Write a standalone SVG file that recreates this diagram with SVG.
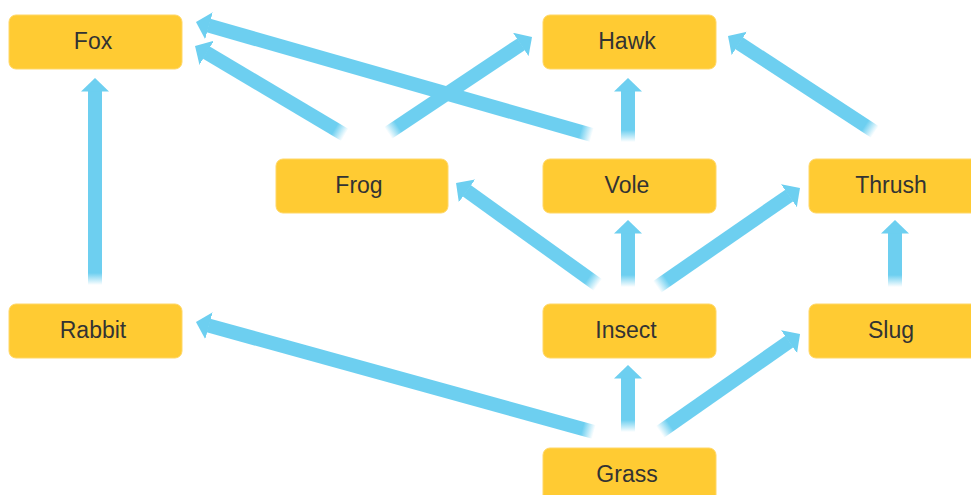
<svg xmlns="http://www.w3.org/2000/svg" width="971" height="495" viewBox="0 0 971 495">
<style>
.node rect{fill:#FFCB33;stroke:#FFD766;stroke-width:1}
.node text{font-family:"Liberation Sans",Arial,sans-serif;font-size:23px;fill:#333;text-anchor:middle;dominant-baseline:central}
.conn line{stroke-width:14;fill:none;marker-end:url(#head)}
</style>
<defs>
<marker id="head" markerUnits="userSpaceOnUse" markerWidth="14" markerHeight="28" viewBox="0 0 14 28" refX="0.5" refY="14" orient="auto">
<path d="M0,0 L13.5,14 L0,28 Z" fill="#6DCFF0"/>
</marker>
<linearGradient id="g1" gradientUnits="userSpaceOnUse" x1="95" y1="285" x2="95" y2="273"><stop offset="0" stop-color="#6DCFF0" stop-opacity="0"/><stop offset="1" stop-color="#6DCFF0"/></linearGradient>
<linearGradient id="g2" gradientUnits="userSpaceOnUse" x1="345" y1="135" x2="334.7" y2="128.9"><stop offset="0" stop-color="#6DCFF0" stop-opacity="0"/><stop offset="1" stop-color="#6DCFF0"/></linearGradient>
<linearGradient id="g3" gradientUnits="userSpaceOnUse" x1="592" y1="135" x2="580.5" y2="131.7"><stop offset="0" stop-color="#6DCFF0" stop-opacity="0"/><stop offset="1" stop-color="#6DCFF0"/></linearGradient>
<linearGradient id="g4" gradientUnits="userSpaceOnUse" x1="388" y1="133" x2="398" y2="126.3"><stop offset="0" stop-color="#6DCFF0" stop-opacity="0"/><stop offset="1" stop-color="#6DCFF0"/></linearGradient>
<linearGradient id="g5" gradientUnits="userSpaceOnUse" x1="628" y1="142" x2="628" y2="130"><stop offset="0" stop-color="#6DCFF0" stop-opacity="0"/><stop offset="1" stop-color="#6DCFF0"/></linearGradient>
<linearGradient id="g6" gradientUnits="userSpaceOnUse" x1="875" y1="132" x2="865" y2="125.4"><stop offset="0" stop-color="#6DCFF0" stop-opacity="0"/><stop offset="1" stop-color="#6DCFF0"/></linearGradient>
<linearGradient id="g7" gradientUnits="userSpaceOnUse" x1="598" y1="285" x2="588.3" y2="278"><stop offset="0" stop-color="#6DCFF0" stop-opacity="0"/><stop offset="1" stop-color="#6DCFF0"/></linearGradient>
<linearGradient id="g8" gradientUnits="userSpaceOnUse" x1="628" y1="287" x2="628" y2="275"><stop offset="0" stop-color="#6DCFF0" stop-opacity="0"/><stop offset="1" stop-color="#6DCFF0"/></linearGradient>
<linearGradient id="g9" gradientUnits="userSpaceOnUse" x1="657" y1="287" x2="667" y2="280"><stop offset="0" stop-color="#6DCFF0" stop-opacity="0"/><stop offset="1" stop-color="#6DCFF0"/></linearGradient>
<linearGradient id="g10" gradientUnits="userSpaceOnUse" x1="895" y1="287" x2="895" y2="275"><stop offset="0" stop-color="#6DCFF0" stop-opacity="0"/><stop offset="1" stop-color="#6DCFF0"/></linearGradient>
<linearGradient id="g11" gradientUnits="userSpaceOnUse" x1="594" y1="432" x2="582.4" y2="428.8"><stop offset="0" stop-color="#6DCFF0" stop-opacity="0"/><stop offset="1" stop-color="#6DCFF0"/></linearGradient>
<linearGradient id="g12" gradientUnits="userSpaceOnUse" x1="628" y1="432" x2="628" y2="420"><stop offset="0" stop-color="#6DCFF0" stop-opacity="0"/><stop offset="1" stop-color="#6DCFF0"/></linearGradient>
<linearGradient id="g13" gradientUnits="userSpaceOnUse" x1="660" y1="432" x2="670" y2="425"><stop offset="0" stop-color="#6DCFF0" stop-opacity="0"/><stop offset="1" stop-color="#6DCFF0"/></linearGradient>
</defs>
<rect width="971" height="495" fill="#fff"/>
<g id="connectors" class="conn">
<line x1="95" y1="285" x2="95" y2="91" stroke="url(#g1)"/>
<line x1="345" y1="135" x2="206.2" y2="52.6" stroke="url(#g2)"/>
<line x1="592" y1="135" x2="208.5" y2="25.6" stroke="url(#g3)"/>
<line x1="388" y1="133" x2="521.2" y2="44.2" stroke="url(#g4)"/>
<line x1="628" y1="142" x2="628" y2="91" stroke="url(#g5)"/>
<line x1="875" y1="132" x2="738.9" y2="43.1" stroke="url(#g6)"/>
<line x1="598" y1="285" x2="466.6" y2="190.6" stroke="url(#g7)"/>
<line x1="628" y1="287" x2="628" y2="233" stroke="url(#g8)"/>
<line x1="657" y1="287" x2="789.3" y2="195.4" stroke="url(#g9)"/>
<line x1="895" y1="287" x2="895" y2="233" stroke="url(#g10)"/>
<line x1="594" y1="432" x2="208.5" y2="325.5" stroke="url(#g11)"/>
<line x1="628" y1="432" x2="628" y2="378" stroke="url(#g12)"/>
<line x1="660" y1="432" x2="789.4" y2="341.4" stroke="url(#g13)"/>
</g>
<g id="fox" class="node"><rect x="9" y="15" width="173" height="54" rx="7"/><text x="93" y="41">Fox</text></g>
<g id="hawk" class="node"><rect x="543" y="15" width="173" height="54" rx="7"/><text x="627" y="41">Hawk</text></g>
<g id="frog" class="node"><rect x="276" y="159" width="172" height="54" rx="7"/><text x="359" y="185">Frog</text></g>
<g id="vole" class="node"><rect x="543" y="159" width="173" height="54" rx="7"/><text x="627" y="185">Vole</text></g>
<g id="thrush" class="node"><rect x="809" y="159" width="173" height="54" rx="7"/><text x="891" y="185">Thrush</text></g>
<g id="rabbit" class="node"><rect x="9" y="304" width="173" height="54" rx="7"/><text x="93" y="330">Rabbit</text></g>
<g id="insect" class="node"><rect x="543" y="304" width="173" height="54" rx="7"/><text x="626" y="330">Insect</text></g>
<g id="slug" class="node"><rect x="809" y="304" width="173" height="54" rx="7"/><text x="891" y="330">Slug</text></g>
<g id="grass" class="node"><rect x="543" y="448" width="173" height="54" rx="7"/><text x="627" y="474">Grass</text></g>
</svg>
